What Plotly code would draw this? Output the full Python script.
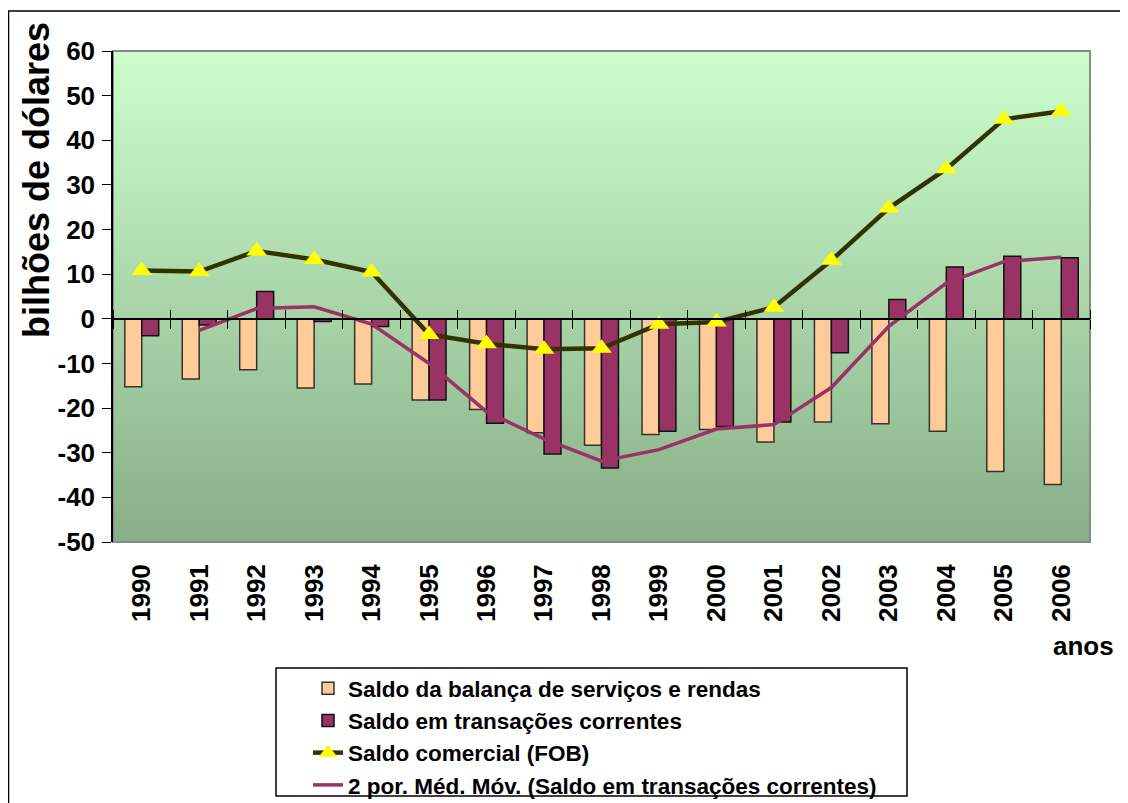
import plotly.graph_objects as go

years = ["1990", "1991", "1992", "1993", "1994", "1995", "1996", "1997", "1998",
         "1999", "2000", "2001", "2002", "2003", "2004", "2005", "2006"]
servicos_rendas = [-15.2, -13.5, -11.4, -15.5, -14.6, -18.2, -20.3, -25.5, -28.3,
                   -25.9, -24.8, -27.6, -23.1, -23.5, -25.2, -34.2, -37.1]
transacoes_correntes = [-3.8, -1.4, 6.1, -0.6, -1.7, -18.2, -23.4, -30.3, -33.4,
                        -25.2, -24.1, -23.1, -7.6, 4.3, 11.6, 14.0, 13.7]
saldo_comercial = [10.8, 10.6, 15.2, 13.3, 10.5, -3.5, -5.6, -6.8, -6.6,
                   -1.2, -0.7, 2.6, 13.1, 24.8, 33.6, 44.7, 46.5]
media_movel_years = years[1:]
media_movel = [-2.6, 2.3, 2.7, -1.2, -10.0, -20.8, -26.9, -31.9, -29.3,
               -24.7, -23.7, -15.4, -1.7, 8.0, 12.8, 13.8]
y_tick_values = [-50, -40, -30, -20, -10, 0, 10, 20, 30, 40, 50, 60]
y_tick_labels = ["-50", "-40", "-30", "-20", "-10", "0", "10", "20", "30", "40", "50", "60"]

# page has an 8px body margin; figure is sized so it fills the window
OFF = 8
W, H = 1128 - OFF, 803 - OFF
# plot area in page pixels
L, R, T, B = 113, 1090, 51, 542


def px(x):
    return (x - L) / (R - L)


def py(y):
    return (B - y) / (B - T)


BOLD_NARROW = "Liberation Sans Narrow, Arial Narrow, Liberation Sans"
BOLD = "Liberation Sans, Arial"

fig = go.Figure()
fig.add_trace(go.Bar(
    x=years, y=servicos_rendas, name="Saldo da balança de serviços e rendas",
    marker=dict(color="#FFCC99", line=dict(color="#333333", width=1.5)),
))
fig.add_trace(go.Bar(
    x=years, y=transacoes_correntes, name="Saldo em transações correntes",
    marker=dict(color="#993366", line=dict(color="#111111", width=1.5)),
))
fig.add_trace(go.Scatter(
    x=years, y=saldo_comercial, name="Saldo comercial (FOB)", mode="lines+markers",
    line=dict(color="#333300", width=4.5),
    marker=dict(symbol="triangle-up", size=18, color="#FFFF00", line=dict(width=0)),
))
fig.add_trace(go.Scatter(
    x=media_movel_years, y=media_movel,
    name="2 por. Méd. Móv. (Saldo em transações correntes)", mode="lines",
    line=dict(color="#993366", width=3.5),
))
# carriers for the zero-line axes with boundary ticks
for ax in ("x2", "x3"):
    fig.add_trace(go.Scatter(x=years, y=transacoes_correntes, xaxis=ax, mode="none",
                             showlegend=False, hoverinfo="skip"))

# gradient background strips
shapes = []
n = 80
top = (204, 255, 204)
bot = (136, 174, 136)
for i in range(n):
    t = (i + 0.5) / n
    c = tuple(int(round(bot[k] + (top[k] - bot[k]) * t)) for k in range(3))
    shapes.append(dict(type="rect", xref="x domain", yref="y domain",
                       x0=0, x1=1, y0=i / n, y1=(i + 1) / n + 0.002,
                       fillcolor="rgb(%d,%d,%d)" % c, line=dict(width=0), layer="below"))
# plot-area border
shapes.append(dict(type="rect", xref="x domain", yref="y domain", x0=0, x1=1, y0=0, y1=1,
                   line=dict(color="#8a8a8a", width=2), layer="below"))
# legend box
shapes.append(dict(type="rect", xref="paper", yref="paper",
                   x0=px(276), x1=px(907), y0=py(668), y1=py(796),
                   line=dict(color="black", width=1.5), fillcolor="white", layer="below"))
# outer frame
shapes.append(dict(type="rect", xref="paper", yref="paper",
                   x0=px(8.5), x1=px(1140), y0=py(11), y1=py(815),
                   line=dict(color="black", width=1.5), layer="below"))

zero_pos = 50 / 110

fig.update_layout(
    width=W, height=H,
    margin=dict(l=L - OFF, r=1128 - R, t=T - OFF, b=803 - B, autoexpand=False),
    paper_bgcolor="white",
    plot_bgcolor="rgba(0,0,0,0)",
    barmode="group", bargap=0.41, bargroupgap=0,
    showlegend=True,
    legend=dict(x=px(308), y=py(667), xanchor="left", yanchor="top",
                bgcolor="rgba(0,0,0,0)", borderwidth=0, tracegroupgap=0,
                font=dict(family=BOLD_NARROW, size=22.5, color="black", weight="bold"),
                traceorder="normal"),
    xaxis=dict(type="category", categoryarray=years, range=[-0.5, 16.5],
               showline=False, ticks="", showgrid=False, zeroline=False, automargin=False,
               tickangle=-90, ticklabelstandoff=16,
               tickfont=dict(family=BOLD, size=26, color="black", weight="bold")),
    xaxis2=dict(type="category", categoryarray=years, range=[-0.5, 16.5],
                overlaying="x", anchor="free", position=zero_pos, side="bottom",
                showline=True, linecolor="black", linewidth=1.5, automargin=False,
                ticks="outside", tickson="boundaries", ticklen=9, tickwidth=1.2,
                tickcolor="black", showticklabels=False, showgrid=False, zeroline=False),
    xaxis3=dict(type="category", categoryarray=years, range=[-0.5, 16.5],
                overlaying="x", anchor="free", position=zero_pos, side="top",
                showline=False, automargin=False,
                ticks="outside", tickson="boundaries", ticklen=9, tickwidth=1.2,
                tickcolor="black", showticklabels=False, showgrid=False, zeroline=False),
    yaxis=dict(range=[-50, 60], tickmode="array", tickvals=y_tick_values,
               ticktext=y_tick_labels, showgrid=False, zeroline=False, automargin=False,
               showline=True, linecolor="black", linewidth=1.5,
               ticks="outside", ticklen=9, tickwidth=1.2, tickcolor="black",
               ticklabelstandoff=2,
               tickfont=dict(family=BOLD_NARROW, size=26, color="black", weight="bold")),
    shapes=shapes,
    annotations=[
        dict(text="bilhões de dólares", xref="paper", yref="paper",
             x=px(37), y=py(180), xanchor="center", yanchor="middle",
             textangle=-90, showarrow=False,
             font=dict(family=BOLD, size=36, color="black", weight="bold")),
        dict(text="anos", xref="paper", yref="paper",
             x=px(1116), y=py(646), xanchor="right", yanchor="middle",
             showarrow=False,
             font=dict(family=BOLD_NARROW, size=26, color="black", weight="bold")),
    ],
)

fig.write_html("out.html")
